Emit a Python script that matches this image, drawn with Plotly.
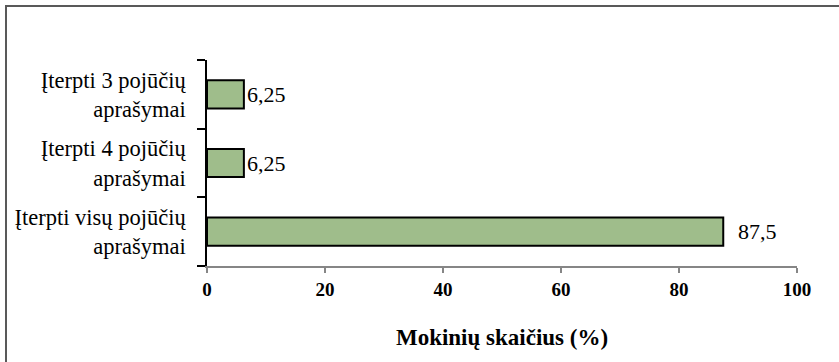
import plotly.graph_objects as go

# Categories listed bottom-to-top as they appear on the axis
categories = [
    "Įterpti visų pojūčių<br>aprašymai",
    "Įterpti 4 pojūčių<br>aprašymai",
    "Įterpti 3 pojūčių<br>aprašymai",
]
values = [87.5, 6.25, 6.25]
label_shift = [13, 1, 1]
x_ticks = [0, 20, 40, 60, 80, 100]
x_title = "Mokinių skaičius (%)"

FONT = "Liberation Serif"


def fmt(v):
    return f"{v:g}".replace(".", ",")


fig = go.Figure(
    go.Bar(
        x=values,
        y=categories,
        orientation="h",
        marker=dict(color="#9FBD8B", line=dict(color="#000000", width=2)),
        hoverinfo="skip",
    )
)

for v, c, s in zip(values, categories, label_shift):
    fig.add_annotation(
        x=v, y=c, text=fmt(v), showarrow=False,
        xanchor="left", yanchor="middle", xshift=s,
        font=dict(family=FONT, size=22, color="#000000"),
    )

# Outer chart frame (runs off the right and bottom edges)
L, R, T, B = 207, 42, 60, 96
W, H = 839 - L - R, 362 - T - B
fig.add_shape(
    type="rect", xref="paper", yref="paper",
    x0=(6 - L) / W, x1=(845 - L) / W,
    y0=-0.6, y1=(H + T - 6) / H,
    line=dict(color="#595959", width=2), fillcolor="rgba(0,0,0,0)",
    layer="below",
)

fig.update_layout(
    width=839, height=362,
    margin=dict(l=L, r=R, t=T, b=B),
    paper_bgcolor="#FFFFFF", plot_bgcolor="#FFFFFF",
    bargap=0.59,
    showlegend=False,
    font=dict(family=FONT, color="#000000"),
    xaxis=dict(
        range=[0, 100], tickvals=x_ticks, ticktext=[str(t) for t in x_ticks],
        showgrid=False, zeroline=False,
        showline=True, linecolor="#868686", linewidth=1.5,
        ticks="outside", ticklen=5, tickcolor="#868686", tickwidth=1.5,
        tickfont=dict(family=FONT, size=19, color="#000000", weight="bold"),
        title=dict(text=x_title, standoff=30,
                   font=dict(family=FONT, size=23, color="#000000", weight="bold")),
        fixedrange=True,
    ),
    yaxis=dict(
        showgrid=False, zeroline=False,
        showline=True, linecolor="#000000", linewidth=1.5,
        ticks="outside", ticklen=8, tickcolor="#000000", tickwidth=1.5,
        tickson="boundaries",
        tickfont=dict(family=FONT, size=22.5, color="#000000"),
        ticklabelstandoff=15,
        fixedrange=True,
    ),
)

fig.write_html("out.html")
